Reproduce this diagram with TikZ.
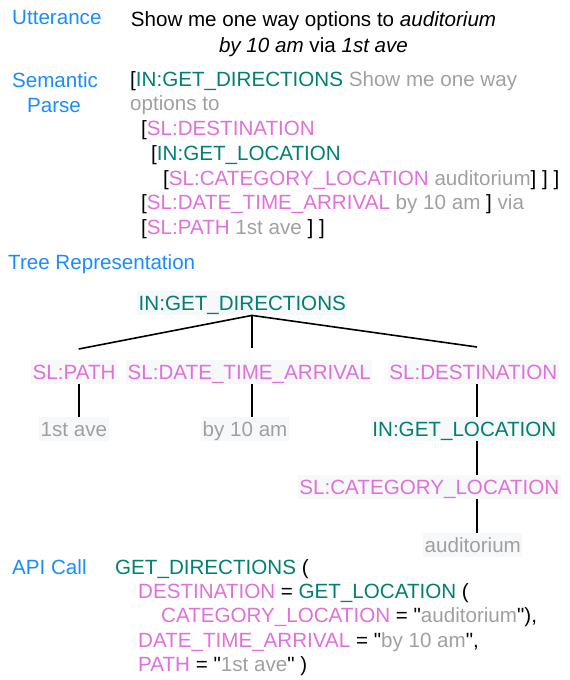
\documentclass[tikz,border=0pt]{standalone}
\usepackage{fontspec}
\setmainfont{Liberation Sans}
\usepackage{tikz}
\definecolor{labelblue}{RGB}{26,140,255}
\definecolor{intentgreen}{RGB}{0,128,110}
\definecolor{slotpink}{RGB}{224,112,218}
\definecolor{spangrey}{RGB}{160,160,160}
\definecolor{nodebg}{RGB}{246,248,250}
\newcommand{\intentlbl}[1]{\textcolor{intentgreen}{#1}}
\newcommand{\slotlbl}[1]{\textcolor{slotpink}{#1}}
\newcommand{\spantxt}[1]{\textcolor{spangrey}{#1}}
\newcommand{\qmark}{\textquotedbl}

\begin{document}
\begin{tikzpicture}[x=1pt, y=-1pt,
  every node/.style={font=\fontsize{20.6}{24}\selectfont, inner sep=0pt},
  heading/.style={text=labelblue, anchor=base west},
  textline/.style={anchor=base west},
  treenode/.style={fill=nodebg, inner xsep=1.5pt, inner ysep=0pt, text height=19pt, text depth=5pt},
  branch/.style={line width=1.6pt}]
 \useasboundingbox (0,0) rectangle (570,680);

 % headings
 \node[heading] (utterlbl) at (12,24) {Utterance};
 \node[heading, anchor=base] (semlbl) at (55,87) {Semantic};
 \node[heading, anchor=base] (parselbl) at (54,112) {Parse};
 \node[heading] (treelbl) at (8,269) {Tree Representation};
 \node[heading] (apilbl) at (12,574) {API Call};

 \node[anchor=base] (utter1) at (313.5,26) {Show me one way options to \textit{auditorium}};
 \node[anchor=base] (utter2) at (313.5,52.5) {\textit{by 10 am} via \textit{1st ave}};

 % semantic parse
 \node[textline] (parse1) at (130,86) {[\intentlbl{IN:GET\_DIRECTIONS} \spantxt{Show me one way}};
 \node[textline] (parse2) at (130,110.5) {\spantxt{options to}};
 \node[textline] (parse3) at (141,135) {[\slotlbl{SL:DESTINATION}};
 \node[textline] (parse4) at (151,160) {[\intentlbl{IN:GET\_LOCATION}};
 \node[textline] (parse5) at (163,185) {[\slotlbl{SL:CATEGORY\_LOCATION} \spantxt{auditorium}] ] ]};
 \node[textline] (parse6) at (141,209.5) {[\slotlbl{SL:DATE\_TIME\_ARRIVAL} \spantxt{by 10 am} ] \spantxt{via}};
 \node[textline] (parse7) at (141,234) {[\slotlbl{SL:PATH} \spantxt{1st ave} ] ]};

 % tree
 \node[treenode, anchor=north west, text=intentgreen] (root) at (137,291) {IN:GET\_DIRECTIONS};
 \node[treenode, anchor=north west, text=slotpink] (path) at (31,360) {SL:PATH};
 \node[treenode, anchor=north west, text=slotpink] (date) at (126,360) {SL:DATE\_TIME\_ARRIVAL};
 \node[treenode, anchor=north east, text=slotpink] (dest) at (559,360) {SL:DESTINATION};
 \node[treenode, anchor=north west, text=spangrey] (pathval) at (39,417) {1st ave};
 \node[treenode, anchor=north west, text=spangrey] (dateval) at (201,417) {by 10 am};
 \node[treenode, anchor=north east, text=intentgreen] (getloc) at (558,417) {IN:GET\_LOCATION};
 \node[treenode, anchor=north east, text=slotpink] (catloc) at (561,475) {SL:CATEGORY\_LOCATION};
 \node[treenode, anchor=north west, text=spangrey] (audval) at (423,533) {auditorium};

 \coordinate (pathfork) at (78.7,349);
 \coordinate (datefork) at (252,348);
 \coordinate (destfork) at (477,347);
 \draw[branch] (pathfork) -- (root.south -| datefork) -- (destfork);
 \draw[branch] (root.south -| datefork) -- (datefork);
 \path[branch]
  (path.south -| pathfork) edge (pathval.north -| pathfork)
  (date.south -| datefork) edge (dateval.north -| datefork)
  (dest.south -| destfork) edge (getloc.north -| destfork)
  (getloc.south -| destfork) edge (catloc.north -| destfork)
  (catloc.south -| destfork) edge (audval.north -| destfork);

 % api call
 \node[textline] (api1) at (115,574) {\intentlbl{GET\_DIRECTIONS} (};
 \node[textline] (api2) at (138,598) {\slotlbl{DESTINATION} = \intentlbl{GET\_LOCATION} (};
 \node[textline] (api3) at (161,622.5) {\slotlbl{CATEGORY\_LOCATION} = \qmark\spantxt{auditorium}\qmark),};
 \node[textline] (api4) at (138,647) {\slotlbl{DATE\_TIME\_ARRIVAL} = \qmark\spantxt{by 10 am}\qmark,};
 \node[textline] (api5) at (138,671) {\slotlbl{PATH} = \qmark\spantxt{1st ave}\qmark{} )};
\end{tikzpicture}
\end{document}
